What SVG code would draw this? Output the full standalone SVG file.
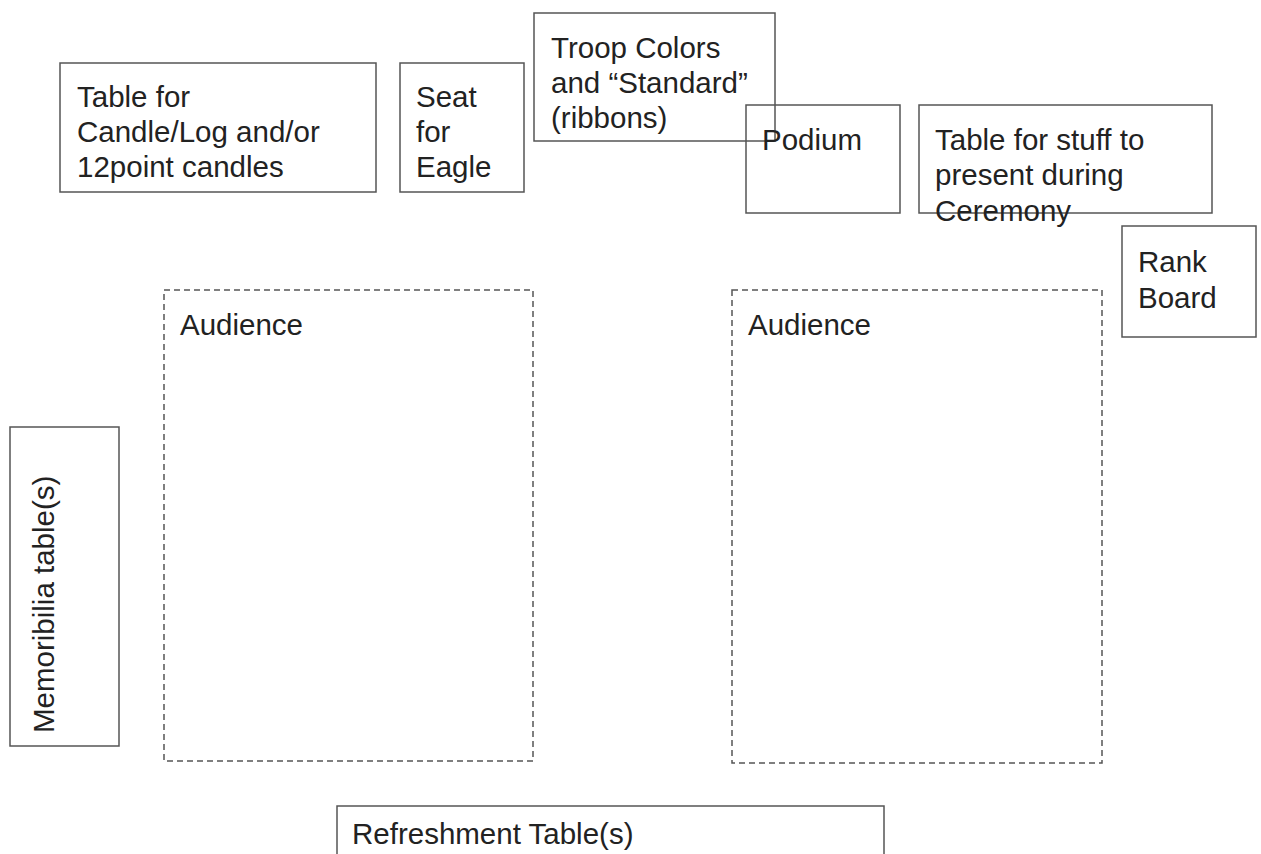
<svg xmlns="http://www.w3.org/2000/svg" width="1261" height="854" viewBox="0 0 1261 854">
<style>
  .box { fill: none; stroke: #555; stroke-width: 1.5; }
  .dash { fill: none; stroke: #555; stroke-width: 1.5; stroke-dasharray: 6 4; }
  text { font-family: "Liberation Sans", Arial, sans-serif; font-size: 29.5px; fill: #222; }
</style>
<rect width="1261" height="854" fill="#fff"/>
<g id="candle-table">
  <rect class="box" x="60" y="63" width="316" height="129"/>
  <text x="77" y="107">Table for</text>
  <text x="77" y="142">Candle/Log and/or</text>
  <text x="77" y="177">12point candles</text>
</g>
<g id="seat-eagle">
  <rect class="box" x="400" y="63" width="124" height="129"/>
  <text x="416" y="107">Seat</text>
  <text x="416" y="142">for</text>
  <text x="416" y="177">Eagle</text>
</g>
<g id="troop-colors">
  <rect class="box" x="534" y="13" width="241" height="128"/>
  <text x="551" y="58">Troop Colors</text>
  <text x="551" y="93">and “Standard”</text>
  <text x="551" y="128">(ribbons)</text>
</g>
<g id="podium">
  <rect class="box" x="746" y="105" width="154" height="108"/>
  <text x="762" y="150">Podium</text>
</g>
<g id="stuff-table">
  <rect class="box" x="919" y="105" width="293" height="108"/>
  <text x="935" y="150">Table for stuff to</text>
  <text x="935" y="185">present during</text>
  <text x="935" y="221">Ceremony</text>
</g>
<g id="rank-board">
  <rect class="box" x="1122" y="226" width="134" height="111"/>
  <text x="1138" y="272">Rank</text>
  <text x="1138" y="308">Board</text>
</g>
<g id="audience-left">
  <rect class="dash" x="164" y="290" width="369" height="471"/>
  <text x="180" y="335">Audience</text>
</g>
<g id="audience-right">
  <rect class="dash" x="732" y="290" width="370" height="473"/>
  <text x="748" y="335">Audience</text>
</g>
<g id="memorabilia">
  <rect class="box" x="10" y="427" width="109" height="319"/>
  <text transform="translate(54,733) rotate(-90)">Memoribilia table(s)</text>
</g>
<g id="refreshment">
  <rect class="box" x="337" y="806" width="547" height="60"/>
  <text x="352" y="844">Refreshment Table(s)</text>
</g>
<g id="connectors"></g>
</svg>
